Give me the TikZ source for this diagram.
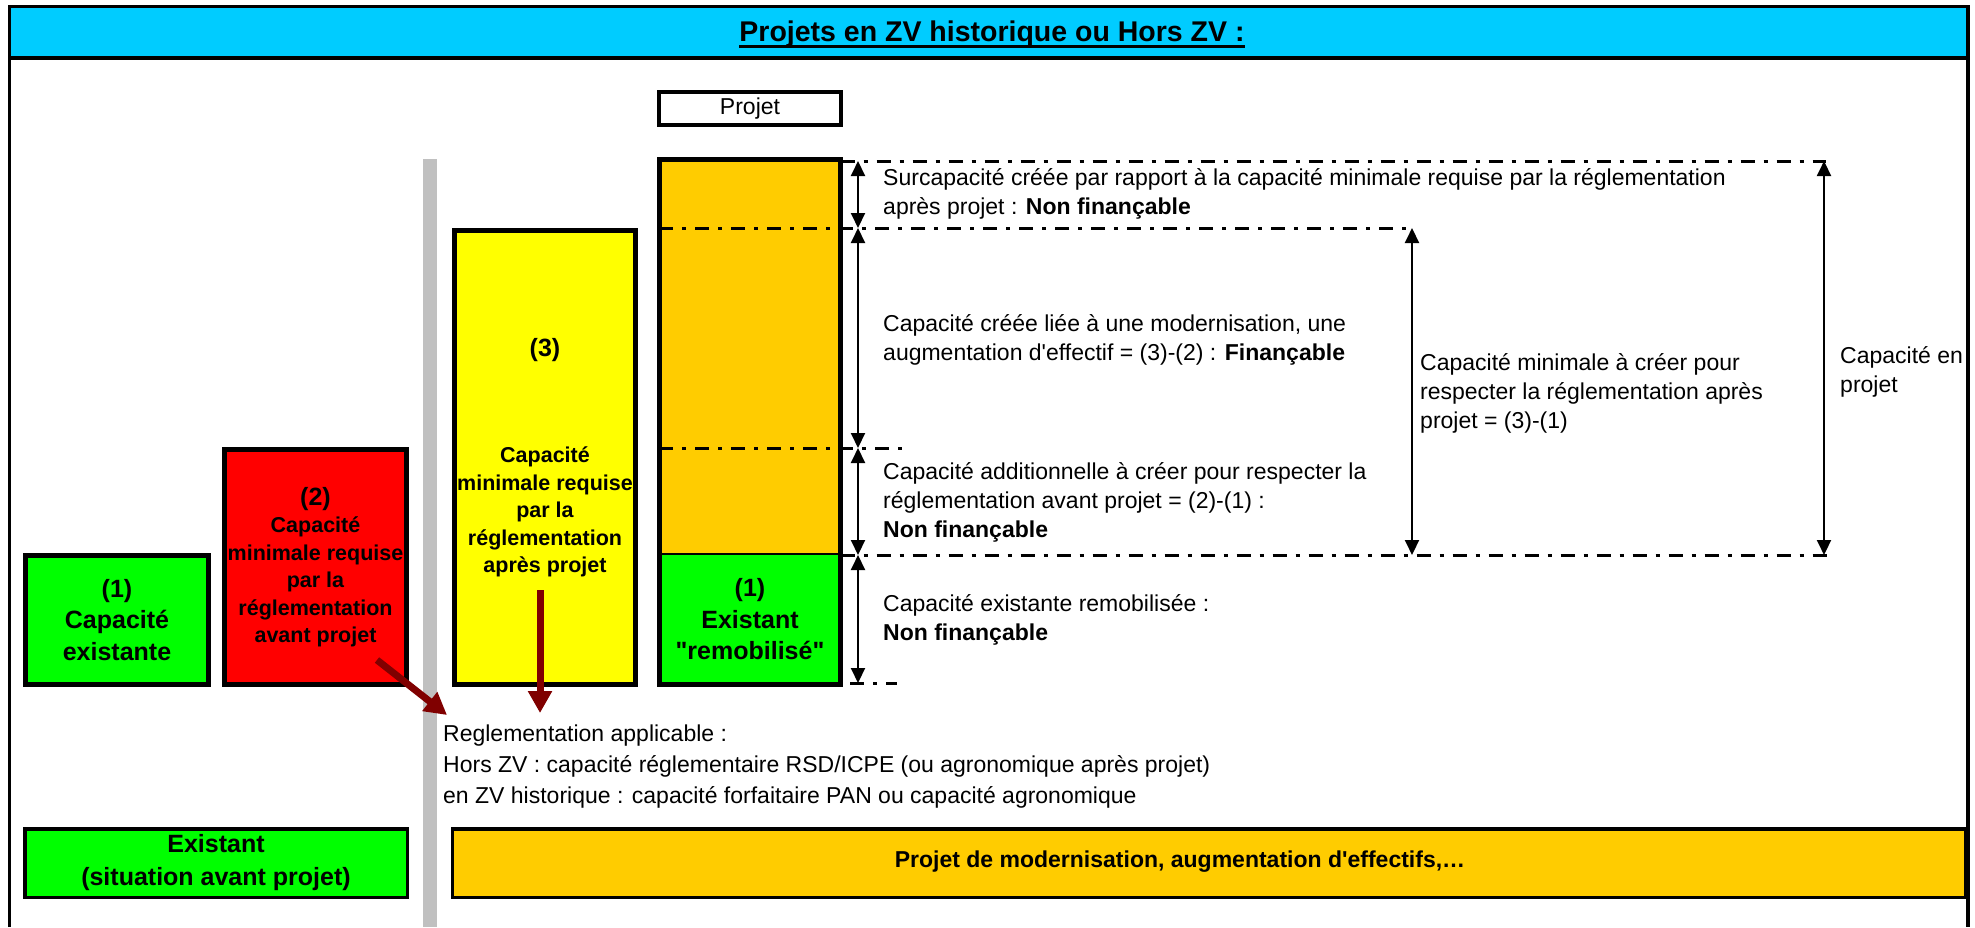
\documentclass[tikz,border=0pt]{standalone}
\usepackage{fontspec}
\setmainfont{Liberation Sans}
\usetikzlibrary{arrows.meta,positioning}

\tikzset{
  capbox/.style={draw, line width=5pt, inner sep=0pt, align=center,
    font=\bfseries\fontsize{25}{31.5}\selectfont},
  smallcap/.style={inner sep=0pt, align=center,
    font=\bfseries\fontsize{21.5}{27.5}\selectfont},
  bandbox/.style={draw, line width=3.5pt, inner sep=0pt, align=center,
    font=\bfseries\fontsize{25}{33}\selectfont},
  notetext/.style={anchor=base west, inner sep=0pt, align=left,
    font=\fontsize{23}{29}\selectfont},
  levelline/.style={line width=3pt, dash pattern=on 14pt off 9pt on 4pt off 9pt},
  dimline/.style={line width=2pt,
    {Triangle[length=15pt,width=14pt]}-{Triangle[length=15pt,width=14pt]}},
  regarrow/.style={draw=regred, line width=7pt, -{Triangle[length=22pt,width=23pt]}}
}

\begin{document}
\begin{tikzpicture}[x=1pt, y=-1pt]
  % Define colors
  \definecolor{headblue}{RGB}{0, 204, 255}
  \definecolor{capgreen}{RGB}{0, 255, 0}
  \definecolor{capred}{RGB}{255, 0, 0}
  \definecolor{capyellow}{RGB}{255, 255, 0}
  \definecolor{projorange}{RGB}{255, 204, 0}
  \definecolor{bargrey}{RGB}{192, 192, 192}
  \definecolor{regred}{RGB}{128, 0, 0}

  \useasboundingbox (0,0) rectangle (1975,927);

  % Header and frame
  \fill[headblue] (9.5,6.5) rectangle (1968,58);
  \draw[line width=3.5pt] (9.5,927) -- (9.5,6.5) -- (1968,6.5) -- (1968,927);
  \draw[line width=3.5pt] (9.5,58) -- (1968,58);
  \node[anchor=base, inner sep=0pt, font=\bfseries\fontsize{28.5}{34}\selectfont] (titre) at (992,41)
    {Projets en ZV historique ou Hors ZV :};
  \draw[line width=3pt] ([yshift=-5pt]titre.base west) -- ([yshift=-5pt]titre.base east);

  % Separation between before and after project
  \fill[bargrey] (423,159) rectangle (437,927);

  % Capacities before project
  \node[capbox, fill=capgreen, minimum width=183, minimum height=129] (cap1) at (117,620)
    {(1)\\Capacité\\existante};
  \node[capbox, smallcap, fill=capred, minimum width=182, minimum height=235] (cap2) at (315.5,567)
    {{\fontsize{25}{30}\selectfont (2)}\\Capacité\\minimale requise\\par la\\réglementation\\avant projet};
  \node[capbox, fill=capyellow, minimum width=181, minimum height=454] (cap3) at (545,457.5) {};
  \node[capbox, draw=none, fill=none] (lab3) at (545,350) {(3)};
  \node[smallcap] (txt3) at (545,512)
    {Capacité\\minimale requise\\par la\\réglementation\\après projet};

  % Project column
  \node[draw, line width=4pt, inner sep=0pt, minimum width=182, minimum height=33,
    font=\fontsize{23}{28}\selectfont] (projet) at (750,108.5) {Projet};
  \node[fill=projorange, inner sep=0pt, minimum width=181, minimum height=394.5] (projhaut) at (750,356.75) {};
  \node[fill=capgreen, inner sep=0pt, minimum width=181, minimum height=129.5, below=0pt of projhaut,
    align=center, font=\bfseries\fontsize{25}{31.5}\selectfont] (remob)
    {(1)\\Existant\\\textquotedbl remobilisé\textquotedbl};

  % Levels
  \coordinate (lvlprojet) at (0,161);
  \coordinate (lvlapres) at (0,228);
  \coordinate (lvlavant) at (0,448);
  \coordinate (lvlexist) at (0,555);
  \coordinate (lvlbase) at (0,683);
  \coordinate (dimA) at (858,0);
  \coordinate (dimB) at (1412,0);
  \coordinate (dimC) at (1824,0);

  \draw[levelline] (projhaut.east |- lvlprojet) -- ([xshift=2pt]dimC |- lvlprojet);
  \draw[levelline] (projhaut.west |- lvlapres) -- (dimB |- lvlapres);
  \draw[levelline] (projhaut.west |- lvlavant) -- ([xshift=46pt]dimA |- lvlavant);
  \draw[levelline] (projhaut.east |- lvlexist) -- ([xshift=9pt]dimC |- lvlexist);
  \draw[levelline] ([xshift=-8pt]dimA |- lvlbase) -- ([xshift=39pt]dimA |- lvlbase);

  \draw[line width=2pt] (projhaut.south west) -- (projhaut.south east);
  \draw[line width=5pt] (projhaut.north west) rectangle (remob.south east);

  % Dimension arrows
  \draw[dimline] (dimA |- lvlprojet) -- (dimA |- lvlapres);
  \draw[dimline] (dimA |- lvlapres) -- (dimA |- lvlavant);
  \draw[dimline] (dimA |- lvlavant) -- (dimA |- lvlexist);
  \draw[dimline] (dimA |- lvlexist) -- (dimA |- lvlbase);
  \draw[dimline] (dimB |- lvlapres) -- (dimB |- lvlexist);
  \draw[dimline] (dimC |- lvlprojet) -- (dimC |- lvlexist);

  % Notes (placed at the baseline of their last line)
  \node[notetext] (surcap) at (883,214)
    {Surcapacité créée par rapport à la capacité minimale requise par la réglementation\\après projet : \textbf{Non finançable}};
  \node[notetext] (creee) at (883,360)
    {Capacité créée liée à une modernisation, une\\augmentation d\textquotesingle effectif = (3)-(2) : \textbf{Finançable}};
  \node[notetext] (addit) at (883,537)
    {Capacité additionnelle à créer pour respecter la\\réglementation avant projet = (2)-(1) :\\\textbf{Non finançable}};
  \node[notetext] (remobtxt) at (883,640)
    {Capacité existante remobilisée :\\\textbf{Non finançable}};
  \node[notetext] (mincreer) at (1420,428)
    {Capacité minimale à créer pour\\respecter la réglementation après\\projet = (3)-(1)};
  \node[notetext] (capprojet) at (1840,392) {Capacité en\\projet};

  % Regulation
  \node[notetext, font=\fontsize{23}{31}\selectfont] (regle) at (443,803)
    {Reglementation applicable :\\Hors ZV : capacité réglementaire RSD/ICPE (ou agronomique après projet)\\en ZV historique : capacité forfaitaire PAN ou capacité agronomique};
  \coordinate (regavant) at (447,715);
  \coordinate (regapres) at (540,713);
  \draw[regarrow] ([shift={(-32,-27)}]cap2.south east) -- (regavant);
  \draw[regarrow] (540,590) -- (regapres);

  % Bottom bands
  \node[bandbox, fill=capgreen, minimum width=382.5, minimum height=68.5] (avant) at (216,863)
    {Existant\\(situation avant projet)};
  \node[bandbox, fill=projorange, minimum width=1513, minimum height=68.5] (projband) at (1209,863) {};
  \node[inner sep=0pt, font=\bfseries\fontsize{23}{29}\selectfont] (projtxt) at (1180,862)
    {Projet de modernisation, augmentation d\textquotesingle effectifs,…};
\end{tikzpicture}
\end{document}
